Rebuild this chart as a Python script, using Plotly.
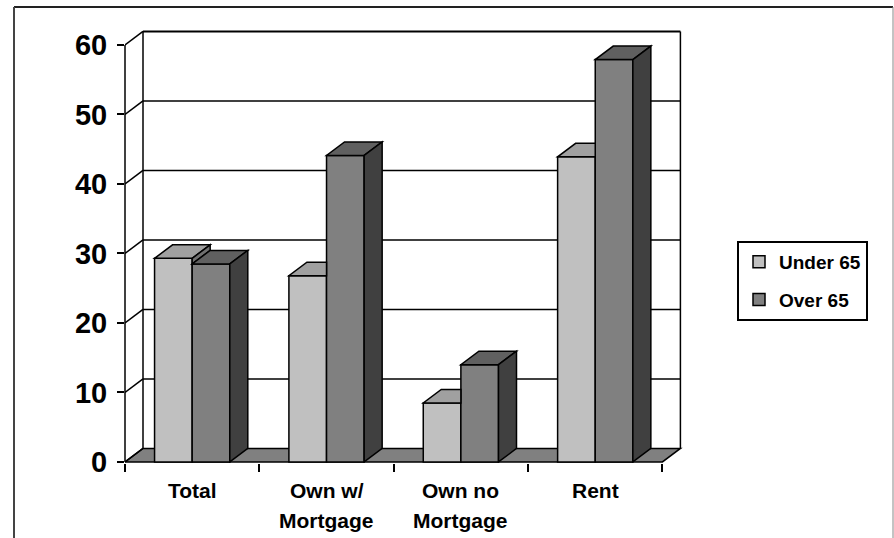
import plotly.graph_objects as go

# ---- data ----
categories = ["Total", "Own w/<br>Mortgage", "Own no<br>Mortgage", "Rent"]
series_names = ["Under 65", "Over 65"]
under_65 = [29.3, 26.8, 8.5, 43.9]
over_65 = [28.5, 44.1, 14.0, 57.9]
y_ticks = [0, 10, 20, 30, 40, 50, 60]

# ---- style ----
FONT = "Liberation Sans, Arial, sans-serif"
front_cols = ["#C0C0C0", "#808080"]
top_cols = ["#A0A0A0", "#606060"]
side_cols = ["#707070", "#404040"]
FLOOR = "#808080"

W, H = 894, 538
ML, MR, MT, MB = 125, 198, 20, 75
X_MAX = 4.25
Y_MIN, Y_MAX = -0.15, 63.59
px_x = (W - ML - MR) / X_MAX
px_y = (H - MT - MB) / (Y_MAX - Y_MIN)
DX = 18 / px_x          # depth offset in x data units
DY = 13.5 / px_y        # depth offset in y data units
BW = 0.28               # bar width (category units)

n = len(categories)
centers = [i + 0.5 for i in range(n)]

fig = go.Figure()
series = [under_65, over_65]
offsets = [-BW, 0.0]
for k, (name, vals) in enumerate(zip(series_names, series)):
    fig.add_trace(go.Bar(
        x=centers, y=vals, name=name, width=BW, offset=offsets[k],
        marker=dict(color=front_cols[k], line=dict(color="black", width=1.5)),
        legendgroup=name, hoverinfo="skip",
    ))

shapes = []


def poly(pts, fill, layer="above", width=1.5):
    path = "M " + " L ".join(f"{x},{y}" for x, y in pts) + " Z"
    return dict(type="path", path=path, xref="x", yref="y", fillcolor=fill,
                line=dict(color="black", width=width), layer=layer)


def line(x0, y0, x1, y1, width=1.5, layer="below", xref="x"):
    return dict(type="line", x0=x0, y0=y0, x1=x1, y1=y1, xref=xref, yref="y",
                line=dict(color="black", width=width), layer=layer)


# floor
shapes.append(poly([(0, 0), (n, 0), (n + DX, DY), (DX, DY)], FLOOR, layer="below"))
# back wall gridlines + left wall diagonals
for v in y_ticks:
    if v > 0:
        shapes.append(line(DX, v + DY, n + DX, v + DY,
                           width=2 if v == y_ticks[-1] else 1.5))
    shapes.append(line(0, v, DX, v + DY))
# back wall verticals
shapes.append(line(DX, DY, DX, y_ticks[-1] + DY))
shapes.append(line(n + DX, DY, n + DX, y_ticks[-1] + DY))
# front value axis
shapes.append(line(0, 0, 0, y_ticks[-1], width=1.5, xref="paper"))

# 3D faces of bars
for i in range(n):
    vu, vo = under_65[i], over_65[i]
    L = centers[i] - BW
    R = centers[i]
    # Under 65 top face
    if vu > vo:
        shapes.append(poly([(L, vu), (R, vu), (R + DX, vu + DY), (L + DX, vu + DY)], top_cols[0]))
        shapes.append(poly([(R, vo), (R, vu), (R + DX, vu + DY), (R + DX, vo + DY)], side_cols[0]))
    else:
        shapes.append(poly([(L, vu), (R, vu), (R, vu + DY), (L + DX, vu + DY)], top_cols[0]))
    # Over 65 faces
    L2, R2 = R, R + BW
    shapes.append(poly([(L2, vo), (R2, vo), (R2 + DX, vo + DY), (L2 + DX, vo + DY)], top_cols[1]))
    shapes.append(poly([(R2, 0), (R2 + DX, DY), (R2 + DX, vo + DY), (R2, vo)], side_cols[1]))

# outer chart border (paper coords)
def to_px_x(px):
    return (px - ML) / (W - ML - MR)


def to_px_y(py):
    return (H - MB - py) / (H - MT - MB)


shapes.append(dict(type="line", xref="paper", yref="paper",
                   x0=to_px_x(14), x1=to_px_x(893), y0=to_px_y(7), y1=to_px_y(7),
                   line=dict(color="#222222", width=2)))
shapes.append(dict(type="line", xref="paper", yref="paper",
                   x0=to_px_x(14), x1=to_px_x(14), y0=to_px_y(7), y1=to_px_y(560),
                   line=dict(color="#444444", width=2)))
shapes.append(dict(type="line", xref="paper", yref="paper",
                   x0=to_px_x(893), x1=to_px_x(893), y0=to_px_y(7), y1=to_px_y(560),
                   line=dict(color="#888888", width=1)))

# category labels
annotations = []
for c, label in zip(centers, categories):
    for j, part in enumerate(label.split("<br>")):
        annotations.append(dict(
            x=c, xref="x", y=0, yref="paper", yanchor="middle", xanchor="center",
            yshift=-(27 + 30 * j), text=part, showarrow=False,
            font=dict(family=FONT, size=21, color="black", weight="bold"),
        ))

fig.update_layout(
    width=W, height=H,
    margin=dict(l=ML, r=MR, t=MT, b=MB, pad=0),
    paper_bgcolor="white", plot_bgcolor="white",
    showlegend=True,
    shapes=shapes, annotations=annotations,
    xaxis=dict(range=[0, X_MAX], showgrid=False, zeroline=False, showline=False,
               tickmode="array", tickvals=list(range(n + 1)), ticks="outside",
               ticklen=8, tickwidth=1.5, tickcolor="black", showticklabels=False,
               fixedrange=True),
    yaxis=dict(range=[Y_MIN, Y_MAX], showgrid=False, zeroline=False, showline=False,
               tickmode="array", tickvals=y_ticks, ticks="outside", ticklen=7,
               tickwidth=1.5, tickcolor="black", ticklabelstandoff=4,
               tickfont=dict(family=FONT, size=29, color="black", weight="bold"),
               fixedrange=True),
    legend=dict(x=to_px_x(737), y=to_px_y(241), xanchor="left", yanchor="top",
                bordercolor="black", borderwidth=2, bgcolor="white",
                traceorder="grouped", tracegroupgap=10,
                font=dict(family=FONT, size=19, color="black", weight="bold")),
)

fig.write_html("out.html")
